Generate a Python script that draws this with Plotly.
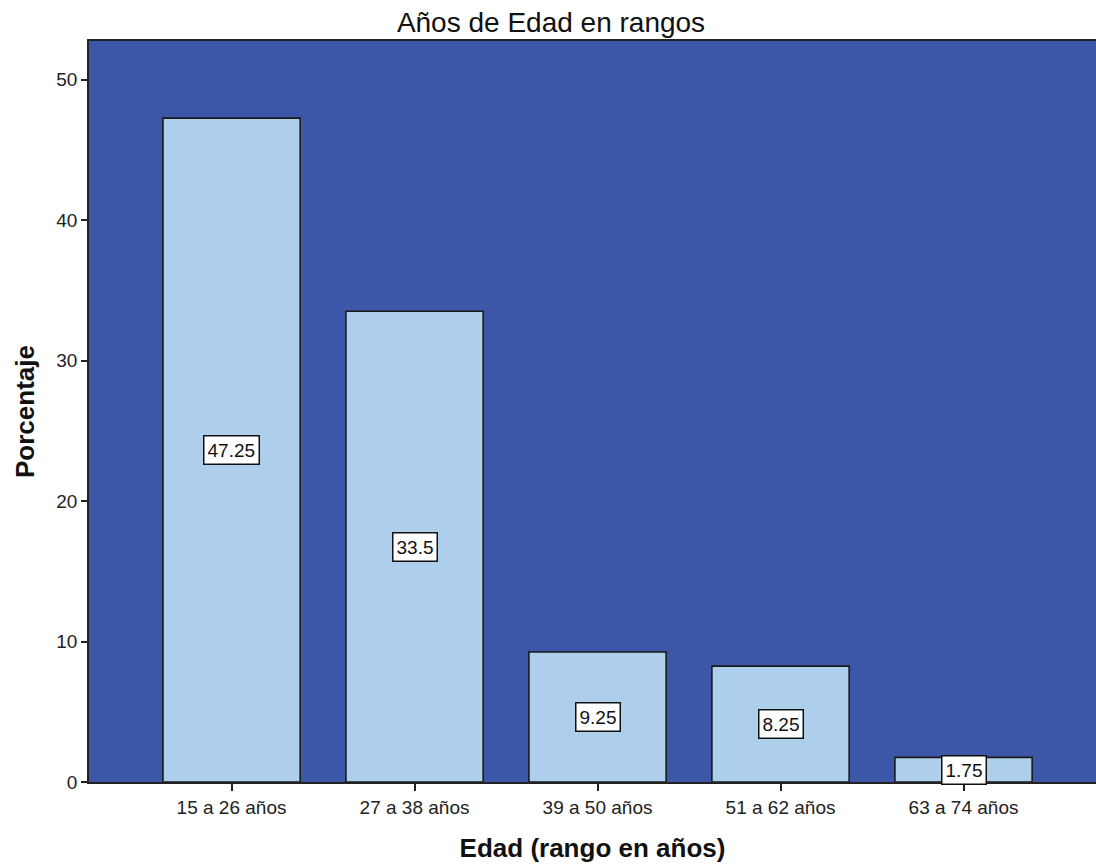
import plotly.graph_objects as go

categories = ["15 a 26 años", "27 a 38 años", "39 a 50 años", "51 a 62 años", "63 a 74 años"]
percentages = [47.25, 33.5, 9.25, 8.25, 1.75]
value_labels = ["47.25", "33.5", "9.25", "8.25", "1.75"]
y_ticks = [0, 10, 20, 30, 40, 50]

FONT = "Arial, Liberation Sans, sans-serif"

fig = go.Figure()
fig.add_trace(go.Bar(
    x=categories, y=percentages, width=0.75,
    marker=dict(color="#AECFEC", line=dict(color="#1a1a1a", width=1.6)),
    hoverinfo="x+y",
))

for c, v, t in zip(categories, percentages, value_labels):
    fig.add_annotation(
        x=c, y=v / 2, text=t, showarrow=False,
        font=dict(family=FONT, size=19, color="#111111"),
        bgcolor="white", bordercolor="#111111", borderwidth=1.5, borderpad=3,
    )

fig.update_layout(
    width=1096, height=865,
    margin=dict(l=89, r=0, t=41, b=83),
    paper_bgcolor="white", plot_bgcolor="#3D57A8",
    showlegend=False,
    title=dict(text="Años de Edad en rangos", x=551 / 1096, xref="container", xanchor="center",
               y=1 - 22 / 865, yref="container", yanchor="middle",
               font=dict(family=FONT, size=28, color="#111111")),
    font=dict(family=FONT, color="#222222"),
)

fig.update_xaxes(
    range=[-0.779, 4.724], showgrid=False, zeroline=False,
    showline=True, linecolor="#222222", linewidth=1.5, mirror=True,
    ticks="outside", ticklen=7, tickcolor="#222222", tickwidth=1.5,
    tickfont=dict(family=FONT, size=19, color="#222222"),
    title=dict(text="<b>Edad (rango en años)</b>", font=dict(family=FONT, size=26, color="#111111"), standoff=22),
)
fig.update_yaxes(
    range=[0, 52.74], tickvals=y_ticks, showgrid=False, zeroline=False,
    showline=True, linecolor="#222222", linewidth=1.5,
    ticks="outside", ticklen=6, tickcolor="#222222", tickwidth=1.5,
    tickfont=dict(family=FONT, size=19, color="#222222"),
    title=dict(text="<b>Porcentaje</b>", font=dict(family=FONT, size=26, color="#111111"), standoff=14),
)

fig.write_html("out.html", config={"displayModeBar": False},
               post_script="document.body.style.margin='0';")
